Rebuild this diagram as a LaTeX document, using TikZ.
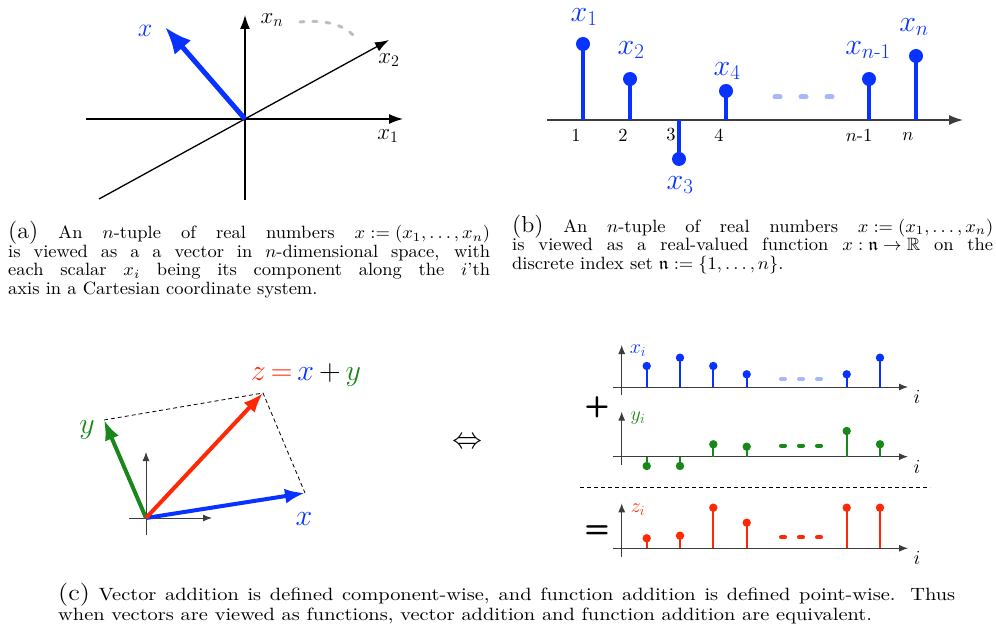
\RequirePackage{fix-cm}
\documentclass[tikz,border=0pt]{standalone}
\usepackage{amsmath,amssymb,graphicx}
\usetikzlibrary{arrows.meta}
\definecolor{vblue}{RGB}{8,50,255}
\definecolor{vred}{RGB}{255,40,5}
\definecolor{vgreen}{RGB}{25,135,25}
\definecolor{lblue}{RGB}{165,185,250}
\definecolor{agray}{RGB}{60,60,60}
\definecolor{arcgray}{RGB}{190,190,190}
\newcommand{\capsz}{\fontsize{10}{10.45}\selectfont\thickmuskip=5mu\medmuskip=4mu}
\newcommand{\labsz}{\fontsize{13}{10.45}\selectfont}
\begin{document}
\begin{tikzpicture}[x=1pt,y=-1pt,
  bigaxis/.style={line width=1.3pt,-{Latex[length=14pt,width=10pt]}},
  baxis/.style={agray,line width=1.3pt,-{Latex[length=14pt,width=10pt]}},
  saxis/.style={agray,line width=1pt,-{Latex[length=9pt,width=7pt]}},
  bstem/.style={vblue,line width=4pt},
  sstem/.style={line width=2pt},
  lbl/.style={inner sep=0pt},
  vec/.style={line width=4pt,-{Latex[length=20pt,width=15pt]}},
]
\useasboundingbox (0,0) rectangle (996,628);
% ---------------- (a)
\coordinate (aO) at (245,119);
\coordinate (aL) at (86,119);
\coordinate (aR) at (403,119);
\coordinate (aB) at (245,200);
\coordinate (aT) at (245,15);
\coordinate (aD1) at (99,199);
\coordinate (aD2) at (389,40);
\coordinate (aX) at (165,27);
\draw[bigaxis] (aL) -- (aR);
\draw[bigaxis] (aB) -- (aT);
\draw[bigaxis] (aD1) -- (aD2);
\coordinate (arc1) at (300,22);
\coordinate (arc2) at (358,42);
\draw[arcgray,line width=3pt,line cap=round,dash pattern=on 4pt off 9pt] (arc1) .. controls (330,19) and (350,27) .. (arc2);
\draw[vblue,line width=5pt,-{Latex[length=27pt,width=22pt]}] (aO) -- (aX);
\node[lbl,font=\fontsize{23}{23}\selectfont] (lxn) at (272,20) {$x_n$};
\node[lbl,font=\fontsize{23}{23}\selectfont] (lx2) at (389,60) {$x_2$};
\node[lbl,font=\fontsize{23}{23}\selectfont] (lx1) at (388,136) {$x_1$};
\node[lbl,font=\fontsize{26}{26}\selectfont,text=vblue] (lxa) at (145,31) {$x$};
% ---------------- (b)
\coordinate (bL) at (547,120);
\coordinate (bR) at (963,120);
\draw[baxis] (bL) -- (bR);
\foreach \i/\xx/\yy in {1/583/44,2/630/79,3/679/159,4/726/91,5/869/79,6/916/56}{
  \coordinate (bb\i) at (\xx,120);
  \coordinate (bd\i) at (\xx,\yy);
  \draw[bstem] (bb\i) -- (bd\i);
  \fill[vblue] (bd\i) circle (7pt);
}
\coordinate (bdash1) at (775,97);
\coordinate (bdash2) at (832,97);
\draw[lblue,line width=5pt,line cap=round,dash pattern=on 5pt off 21pt] (bdash1) -- (bdash2);
\begin{scope}[every node/.style={lbl,text=vblue,font=\fontsize{30}{30}\selectfont}]
\node (bx1) at (584,17) {$x_1$};
\node (bx2) at (631,50) {$x_2$};
\node (bx3) at (680,185) {$x_3$};
\node (bx4) at (727,71) {$x_4$};
\node (bxn1) at (868,50) {$x_{n\text{-}1}$};
\node (bxn) at (914,27) {$x_n$};
\end{scope}
\begin{scope}[every node/.style={lbl}]
\node (t1) at (576,135) {\scalebox{1.85}{1}};
\node (t2) at (623,135) {\scalebox{1.85}{2}};
\node (t3) at (671,135) {\scalebox{1.85}{3}};
\node (t4) at (719,135) {\scalebox{1.85}{4}};
\node (tn1) at (859,135) {\scalebox{1.85}{$n$-1}};
\node (tn) at (908,137) {\scalebox{1.85}{$n$}};
\end{scope}
% ---------------- captions (a), (b)
\node[lbl,anchor=north west] (capa) at (8,221)
 {\scalebox{1.85}[1.78]{\parbox[t]{260.5pt}{\capsz {\labsz(a)} An $n$-tuple of real numbers $x := (x_1,\dots,x_n)$\linebreak
 is viewed as a a vector in $n$-dimensional space, with\linebreak
 each scalar $x_i$ being its component along the $i$'th\linebreak
 axis in a Cartesian coordinate system.\par}}};
\node[lbl,anchor=north west] (capb) at (512,214.5)
 {\scalebox{1.85}[1.78]{\parbox[t]{260pt}{\capsz {\labsz(b)} An $n$-tuple of real numbers $x := (x_1,\dots,x_n)$\linebreak
 is viewed as a real-valued function $x : \mathfrak{n} \to \mathbb{R}$ on the\linebreak
 discrete index set $\mathfrak{n} := \{1,\dots,n\}$.\par}}};
% ---------------- (c) left
\coordinate (cO) at (146,518);
\coordinate (cHL) at (129,518);
\coordinate (cHR) at (212,518);
\coordinate (cVB) at (146,535);
\coordinate (cVT) at (146,452);
\draw[saxis] (cHL) -- (cHR);
\draw[saxis] (cVB) -- (cVT);
\coordinate (cX) at (305,493);
\coordinate (cY) at (104,420);
\coordinate (cZ) at (263,393);
\draw[black,line width=0.8pt,dash pattern=on 4pt off 3pt] (cY) -- (cZ) -- (cX);
\draw[vec,vgreen] (cO) -- (cY);
\draw[vec,vblue] (cO) -- (cX);
\draw[vec,vred] (cO) -- (cZ);
\begin{scope}[every node/.style={lbl,font=\fontsize{30}{30}\selectfont}]
\node[text=vblue] (lcx) at (304,519) {$x$};
\node[text=vgreen] (lcy) at (87,430) {$y$};
\node (lcz) at (306,375) {$\color{vred}z\,{=}\,\color{vblue}x\,\color{black}{+}\,\color{vgreen}y$};
\node (iff) at (467,443) {$\Leftrightarrow$};
\end{scope}
\node[lbl] (plus) at (597,407) {\scalebox{2.9}{\fontsize{10}{10}\selectfont\sffamily\bfseries +}};
\node[lbl] (eq) at (597,532) {\scalebox{2.9}{\fontsize{10}{10}\selectfont\sffamily\bfseries =}};
% ---------------- (c) right plots
\foreach \p/\base/\top/\bot/\col/\hh/\lab in {
  x/387/345/395/vblue/{21,29.3,21,12.7,12.7,29.3}/x_i,
  y/456.7/411.7/465/vgreen/{-9.3,-9.3,12.4,10,25.7,12.4}/y_i,
  z/548.3/503.3/557/vred/{10,12.6,40.6,25.6,40.6,40.6}/z_i}{
  \coordinate (\p VB) at (621.7,\bot);
  \coordinate (\p VT) at (621.7,\top);
  \coordinate (\p HL) at (613,\base);
  \coordinate (\p HR) at (908,\base);
  \draw[saxis] (\p VB) -- (\p VT);
  \draw[saxis] (\p HL) -- (\p HR);
  \foreach \xx [count=\k] in {646.7,680,713.3,746.7,846.7,880}{
    \pgfmathsetmacro{\hv}{{\hh}[\k-1]}
    \coordinate (\p b\k) at (\xx,\base);
    \coordinate (\p d\k) at (\xx,\base-\hv);
    \draw[sstem,\col] (\p b\k) -- (\p d\k);
    \fill[\col] (\p d\k) circle (4.2pt);
  }
  \node[lbl,text=\col,font=\fontsize{20}{20}\selectfont] (\p lab) at (638,\top+6) {$\lab$};
  \node[lbl,font=\fontsize{20}{20}\selectfont] (\p i) at (917,\base+10) {$i$};
}
\coordinate (xdash1) at (781,379);
\coordinate (xdash2) at (821,379);
\draw[lblue,line width=4pt,line cap=round,dash pattern=on 4pt off 14pt] (xdash1) -- (xdash2);
\coordinate (ydash1) at (781,445.7);
\coordinate (ydash2) at (821,445.7);
\draw[vgreen,line width=4pt,line cap=round,dash pattern=on 4pt off 14pt] (ydash1) -- (ydash2);
\coordinate (zdash1) at (781,537.3);
\coordinate (zdash2) at (821,537.3);
\draw[vred,line width=4pt,line cap=round,dash pattern=on 4pt off 14pt] (zdash1) -- (zdash2);
\coordinate (sep1) at (580,487);
\coordinate (sep2) at (930,487);
\draw[black,line width=0.8pt,dash pattern=on 4pt off 3pt] (sep1) -- (sep2);
% ---------------- caption (c)
\node[lbl,anchor=north west] (capc) at (58,583.3)
 {\scalebox{2.04}[1.78]{\parbox[t]{439.7pt}{\fontsize{10}{10.3}\selectfont {\labsz(c)} Vector addition is defined component-wise, and function addition is defined point-wise. Thus\linebreak
 when vectors are viewed as functions, vector addition and function addition are equivalent.\par}}};
\end{tikzpicture}
\end{document}
